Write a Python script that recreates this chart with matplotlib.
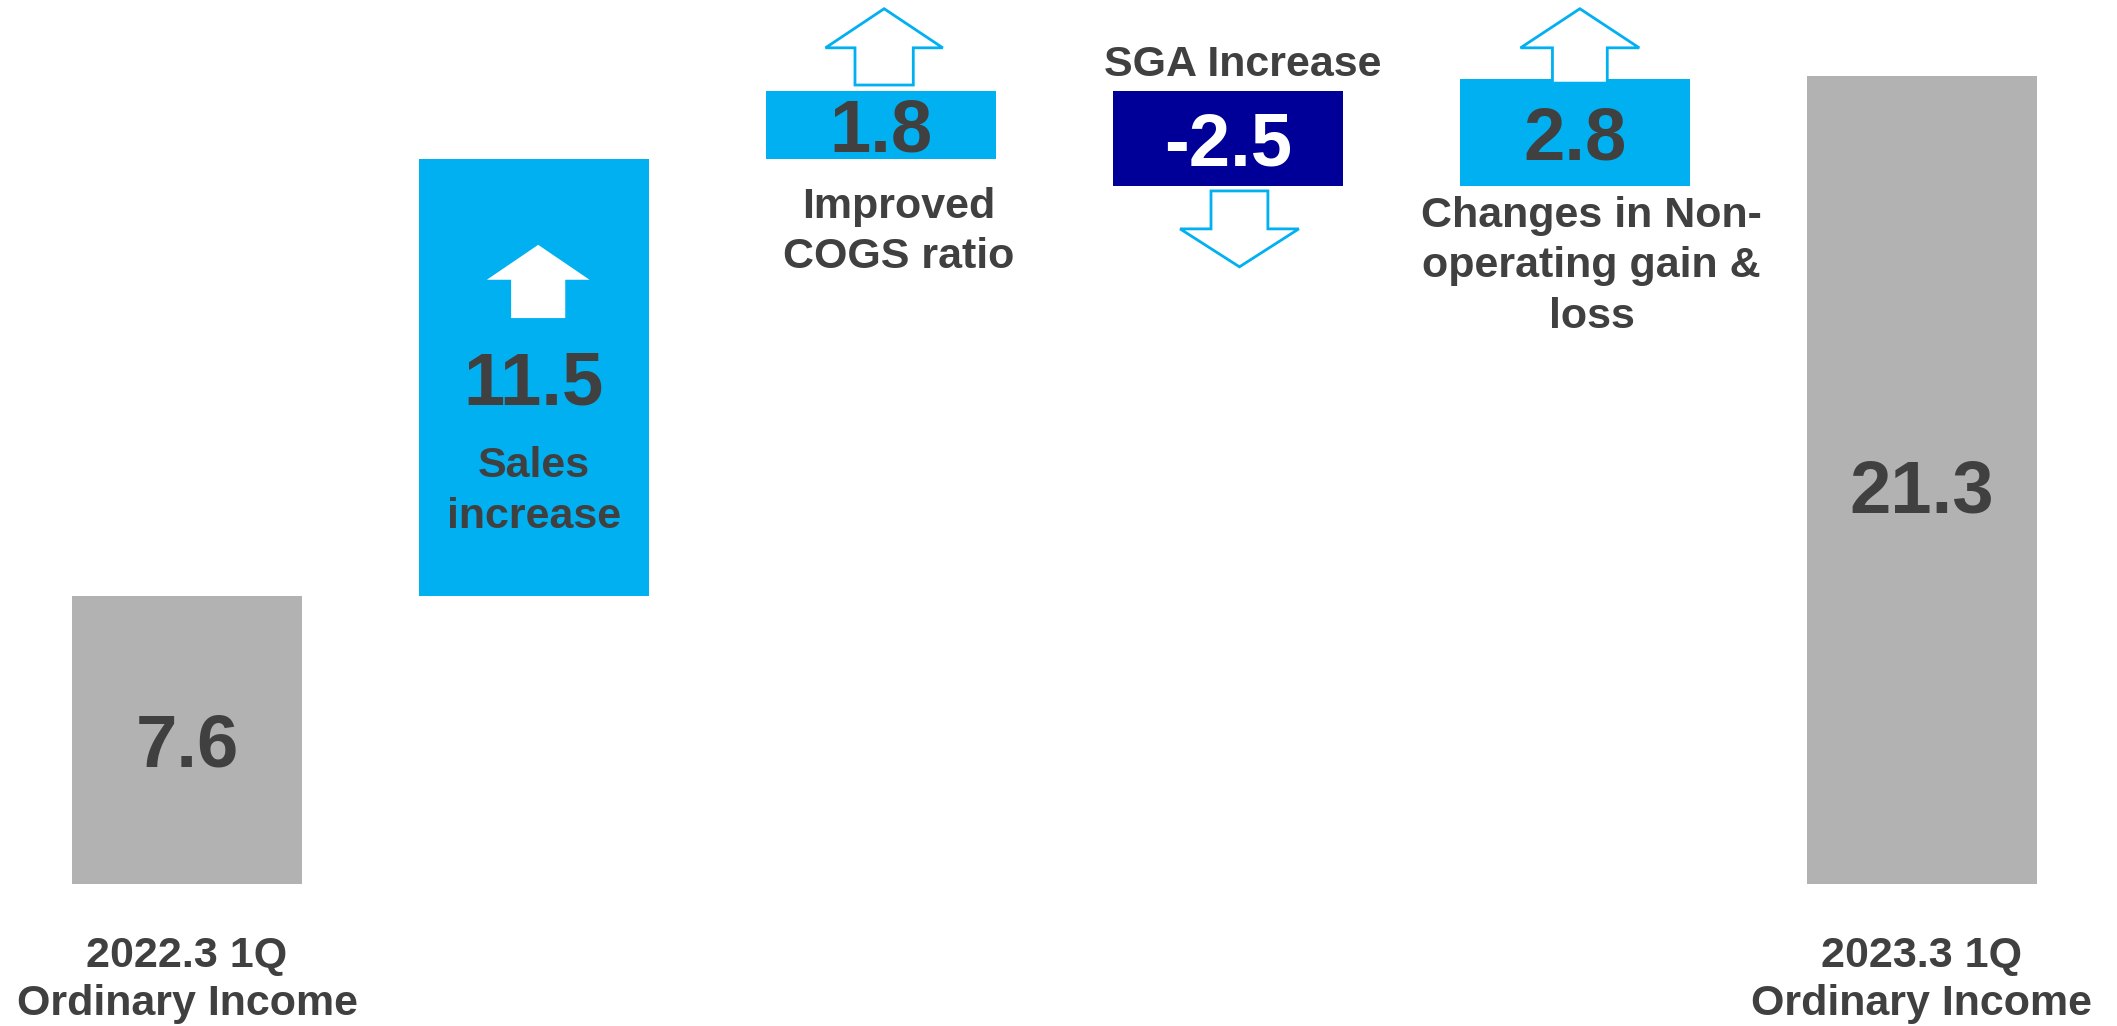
import matplotlib
matplotlib.use("Agg")
import matplotlib.pyplot as plt
from matplotlib.patches import Polygon
import numpy as np

# --- data: ordinary income bridge (1Q, 100 million yen) ---
start_label = ["2022.3 1Q", "Ordinary Income"]
end_label = ["2023.3 1Q", "Ordinary Income"]
start_value = 7.6
end_value = 21.3
factor_values = [11.5, 1.8, -2.5, 2.8]
factor_labels = [
    ["Sales", "increase"],
    ["Improved", "COGS ratio"],
    ["SGA Increase"],
    ["Changes in Non-", "operating gain &", "loss"],
]

# --- style ---
GRAY = "#B2B2B2"
BLUE = "#00B0F0"
NAVY = "#000099"
TEXT = "#404040"
FONT = "Liberation Sans"
NUM_SIZE = 53.5
LABEL_SIZE = 31
BAR_WIDTH = 0.664
DIGIT_HALF = 0.71  # half the digit height in data units


def draw_lines(ax, x, first_baseline, lines, step, color=TEXT, size=LABEL_SIZE):
    for i, line in enumerate(lines):
        ax.text(x, first_baseline - i * step, line, ha="center", va="baseline",
                fontsize=size, fontweight="bold", color=color, family=FONT)


def draw_arrow(ax, xc, y_base, y_head, y_tip, shaft_hw, head_hw, face, edge, lw=0):
    pts = [(xc - shaft_hw, y_base), (xc - shaft_hw, y_head), (xc - head_hw, y_head),
           (xc, y_tip), (xc + head_hw, y_head), (xc + shaft_hw, y_head),
           (xc + shaft_hw, y_base)]
    ax.add_patch(Polygon(pts, closed=True, facecolor=face, edgecolor=edge,
                         linewidth=lw, joinstyle="miter", zorder=4))


# waterfall geometry
steps = np.array(factor_values)
bottoms = start_value + np.concatenate([[0.0], np.cumsum(steps)[:-1]])
heights = [start_value] + factor_values + [end_value]
bar_bottoms = [0.0] + list(bottoms) + [0.0]
colors = [GRAY] + [BLUE if v > 0 else NAVY for v in factor_values] + [GRAY]
x = np.arange(len(heights))

fig = plt.figure(figsize=(21.17, 10.26), dpi=100)
ax = fig.add_axes([0, 0, 1, 1])
ax.bar(x, heights, bottom=bar_bottoms, width=BAR_WIDTH, color=colors, zorder=2)
ax.set_xlim(-0.539, 5.562)
ax.set_ylim(-3.74, 23.29)
ax.axis("off")

# value labels, centred in each bar
for i, (h, b) in enumerate(zip(heights, bar_bottoms)):
    mid = b + h / 2
    if i == len(heights) - 1:
        mid -= 0.15
    num_color = "white" if colors[i] == NAVY else TEXT
    ax.text(x[i], mid - DIGIT_HALF, f"{h:.1f}", ha="center", va="baseline",
            fontsize=NUM_SIZE, fontweight="bold", color=num_color, family=FONT, zorder=5)

# factor captions
draw_lines(ax, x[1], 10.72, factor_labels[0], 1.34)
draw_lines(ax, x[2] + 0.05, 17.55, factor_labels[1], 1.32)
draw_lines(ax, x[3] + 0.043, 21.29, factor_labels[2], 1.32)
draw_lines(ax, x[4] + 0.048, 17.31, factor_labels[3], 1.33)

# axis captions for start / end bars
draw_lines(ax, x[0], -2.19, start_label, 1.26)
draw_lines(ax, x[-1], -2.19, end_label, 1.26)

# direction arrows
draw_arrow(ax, x[1] + 0.012, 14.91, 15.92, 16.84, 0.078, 0.148, "white", "white")
draw_arrow(ax, x[2] + 0.009, 21.05, 22.03, 23.06, 0.084, 0.169, "white", BLUE, lw=2.0)
draw_arrow(ax, x[3] + 0.033, 18.26, 17.26, 16.26, 0.082, 0.171, "white", BLUE, lw=2.0)
draw_arrow(ax, x[4] + 0.014, 21.10, 22.03, 23.06, 0.079, 0.171, "white", BLUE, lw=2.0)

fig.savefig("out.png", dpi=100, facecolor="white")
